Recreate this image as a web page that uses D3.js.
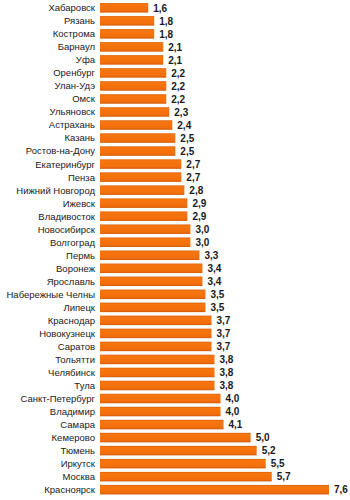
<!DOCTYPE html>
<html>
<head>
<meta charset="utf-8">
<script src="https://cdn.jsdelivr.net/npm/d3@7"></script>
<style>
  html, body { margin: 0; padding: 0; background: #ffffff; }
  svg { display: block; }
</style>
</head>
<body>
<svg id="chart" width="350" height="500"></svg>
<script>
// Cities, top to bottom
const cities = [
  "Хабаровск", "Рязань", "Кострома", "Барнаул", "Уфа", "Оренбург", "Улан-Удэ",
  "Омск", "Ульяновск", "Астрахань", "Казань", "Ростов-на-Дону", "Екатеринбург",
  "Пенза", "Нижний Новгород", "Ижевск", "Владивосток", "Новосибирск", "Волгоград",
  "Пермь", "Воронеж", "Ярославль", "Набережные Челны", "Липецк", "Краснодар",
  "Новокузнецк", "Саратов", "Тольятти", "Челябинск", "Тула", "Санкт-Петербург",
  "Владимир", "Самара", "Кемерово", "Тюмень", "Иркутск", "Москва", "Красноярск"
];
// Values per city
const values = [
  1.6, 1.8, 1.8, 2.1, 2.1, 2.2, 2.2,
  2.2, 2.3, 2.4, 2.5, 2.5, 2.7,
  2.7, 2.8, 2.9, 2.9, 3.0, 3.0,
  3.3, 3.4, 3.4, 3.5, 3.5, 3.7,
  3.7, 3.7, 3.8, 3.8, 3.8, 4.0,
  4.0, 4.1, 5.0, 5.2, 5.5, 5.7, 7.6
];

const data = cities.map((c, i) => ({ city: c, value: values[i] }));

const svg = d3.select("#chart");
const plotLeft = 100, plotTop = 1.5, plotBottom = 496;

const x = d3.scaleLinear().domain([0, 7.6]).range([plotLeft, 329]);
const y = d3.scaleBand().domain(cities).range([plotTop, plotBottom]).paddingInner(0.27).paddingOuter(0.12);

const defs = svg.append("defs");
const grad = defs.append("linearGradient").attr("id", "barGrad")
  .attr("x1", 0).attr("y1", 0).attr("x2", 0).attr("y2", 1);
grad.append("stop").attr("offset", "0%").attr("stop-color", "#d8600c");
grad.append("stop").attr("offset", "15%").attr("stop-color", "#f7760f");
grad.append("stop").attr("offset", "80%").attr("stop-color", "#f26e0c");
grad.append("stop").attr("offset", "100%").attr("stop-color", "#d05a08");

const fmt = v => v.toFixed(1).replace(".", ",");

const rows = svg.selectAll("g.row").data(data).join("g").attr("class", "row");

rows.append("rect")
  .attr("x", x(0))
  .attr("y", d => y(d.city))
  .attr("width", d => x(d.value) - x(0))
  .attr("height", y.bandwidth())
  .attr("fill", "url(#barGrad)");

rows.append("text")
  .attr("x", plotLeft - 5)
  .attr("y", d => y(d.city) + y.bandwidth() / 2)
  .attr("dy", "0.36em")
  .attr("text-anchor", "end")
  .attr("font-family", "Liberation Sans, Arial, sans-serif")
  .attr("font-size", 9.5)
  .attr("fill", "#1a1a1a")
  .text(d => d.city);

rows.append("text")
  .attr("x", d => x(d.value) + 5)
  .attr("y", d => y(d.city) + y.bandwidth() / 2)
  .attr("dy", "0.38em")
  .attr("font-family", "Liberation Sans, Arial, sans-serif")
  .attr("font-size", 10)
  .attr("font-weight", "bold")
  .attr("fill", "#1a1a1a")
  .text(d => fmt(d.value));
</script>
</body>
</html>
